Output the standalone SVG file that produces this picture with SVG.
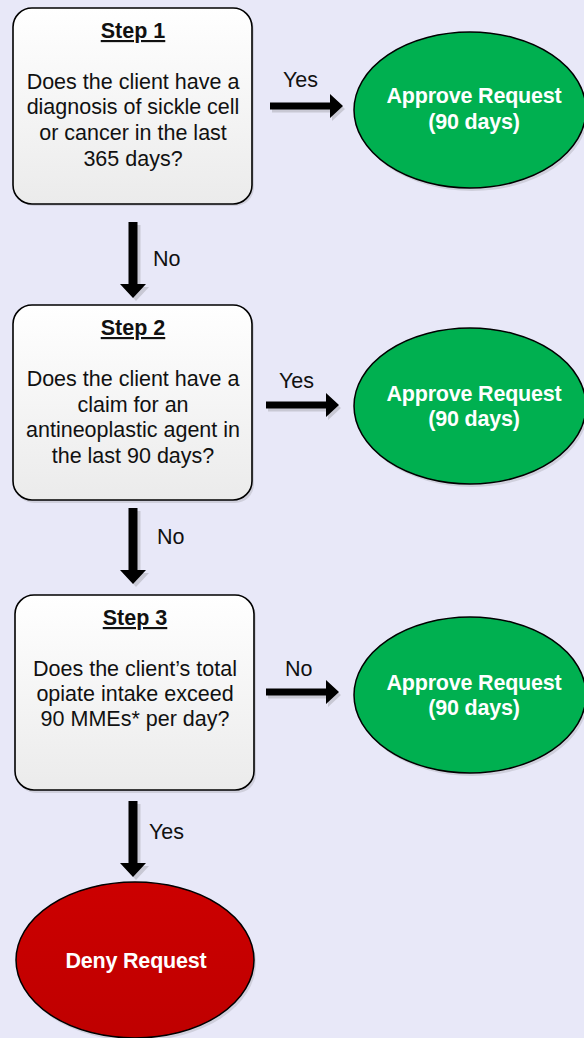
<svg xmlns="http://www.w3.org/2000/svg" width="584" height="1038" viewBox="0 0 584 1038">
<defs>
<linearGradient id="boxg" x1="0" y1="0" x2="0" y2="1"><stop offset="0" stop-color="#ffffff"/><stop offset="1" stop-color="#ebebeb"/></linearGradient>
<linearGradient id="redg" x1="0" y1="0" x2="0" y2="1"><stop offset="0" stop-color="#cc0000"/><stop offset="1" stop-color="#bf0000"/></linearGradient>
<path id="harrow" d="M0,-3.5 H60 V-12 L73,0 L60,12 V3.5 H0 Z"/>
<path id="varrow" d="M-4.5,0 H4.5 V62 H13 L0,76 L-13,62 H-4.5 Z"/>
</defs>
<style>
.box{fill:url(#boxg);stroke:#000;stroke-width:1.6}
.shadow{fill:#cfcfdc}
.t{font-family:"Liberation Sans",Arial,sans-serif;font-size:21.5px;fill:#111;text-anchor:middle}
.h{font-weight:bold;text-decoration:underline}
.w{font-family:"Liberation Sans",Arial,sans-serif;font-size:21.5px;font-weight:bold;fill:#fff;text-anchor:middle;letter-spacing:-0.2px}
.green{fill:#00b050;stroke:#000;stroke-width:1.5}
.red{fill:url(#redg);stroke:#000;stroke-width:1.5}
.arr{fill:#000}
.ash{fill:#c8c8d4}
.lbl{font-family:"Liberation Sans",Arial,sans-serif;font-size:21.5px;fill:#111}
</style>
<rect width="584" height="1038" fill="#e8e8f8"/>

<g id="step1">
<rect x="15" y="11" width="239" height="195" rx="19" class="shadow"/>
<rect x="13" y="8" width="239" height="196" rx="19" class="box"/>
<text x="133" y="38" class="t h">Step 1</text>
<text x="133" y="89" class="t">Does the client have a</text>
<text x="133" y="114" class="t">diagnosis of sickle cell</text>
<text x="133" y="140" class="t">or cancer in the last</text>
<text x="133" y="166" class="t">365 days?</text>
</g>

<g id="approve1">
<ellipse cx="472" cy="113" rx="116" ry="78" class="shadow"/>
<ellipse cx="470" cy="110" rx="116" ry="78" class="green"/>
<text x="474" y="103" class="w">Approve Request</text>
<text x="474" y="129" class="w">(90 days)</text>
</g>

<g id="step2">
<rect x="15" y="308" width="239" height="195" rx="19" class="shadow"/>
<rect x="13" y="305" width="239" height="195" rx="19" class="box"/>
<text x="133" y="335" class="t h">Step 2</text>
<text x="133" y="386" class="t">Does the client have a</text>
<text x="133" y="412" class="t">claim for an</text>
<text x="133" y="437" class="t">antineoplastic agent in</text>
<text x="133" y="463" class="t">the last 90 days?</text>
</g>

<g id="approve2">
<ellipse cx="472" cy="409" rx="116" ry="78" class="shadow"/>
<ellipse cx="470" cy="406" rx="116" ry="78" class="green"/>
<text x="474" y="401" class="w">Approve Request</text>
<text x="474" y="426" class="w">(90 days)</text>
</g>

<g id="step3">
<rect x="17" y="598" width="239" height="195" rx="19" class="shadow"/>
<rect x="15" y="595" width="239" height="195" rx="19" class="box"/>
<text x="135" y="625" class="t h">Step 3</text>
<text x="135" y="676" class="t">Does the client’s total</text>
<text x="135" y="701" class="t">opiate intake exceed</text>
<text x="135" y="726" class="t">90 MMEs* per day?</text>
</g>

<g id="approve3">
<ellipse cx="472" cy="698" rx="116" ry="78" class="shadow"/>
<ellipse cx="470" cy="695" rx="116" ry="78" class="green"/>
<text x="474" y="690" class="w">Approve Request</text>
<text x="474" y="715" class="w">(90 days)</text>
</g>

<g id="deny">
<ellipse cx="137" cy="963" rx="119" ry="78" class="shadow"/>
<ellipse cx="135" cy="960" rx="119" ry="78" class="red"/>
<text x="136" y="968" class="w">Deny Request</text>
</g>

<g id="connectors">
<use href="#harrow" x="272" y="109" class="ash"/>
<use href="#harrow" x="270" y="106" class="arr"/>
<text x="283" y="87" class="lbl">Yes</text>

<use href="#harrow" x="268" y="408" class="ash"/>
<use href="#harrow" x="266" y="405" class="arr"/>
<text x="279" y="388" class="lbl">Yes</text>

<use href="#harrow" x="268" y="695" class="ash"/>
<use href="#harrow" x="266" y="692" class="arr"/>
<text x="285" y="676" class="lbl">No</text>

<use href="#varrow" x="136" y="225" class="ash"/>
<use href="#varrow" x="133" y="222" class="arr"/>
<text x="153" y="266" class="lbl">No</text>

<use href="#varrow" x="136" y="511" class="ash"/>
<use href="#varrow" x="133" y="508" class="arr"/>
<text x="157" y="544" class="lbl">No</text>

<use href="#varrow" x="136" y="804" class="ash"/>
<use href="#varrow" x="133" y="801" class="arr"/>
<text x="149" y="839" class="lbl">Yes</text>
</g>
</svg>
